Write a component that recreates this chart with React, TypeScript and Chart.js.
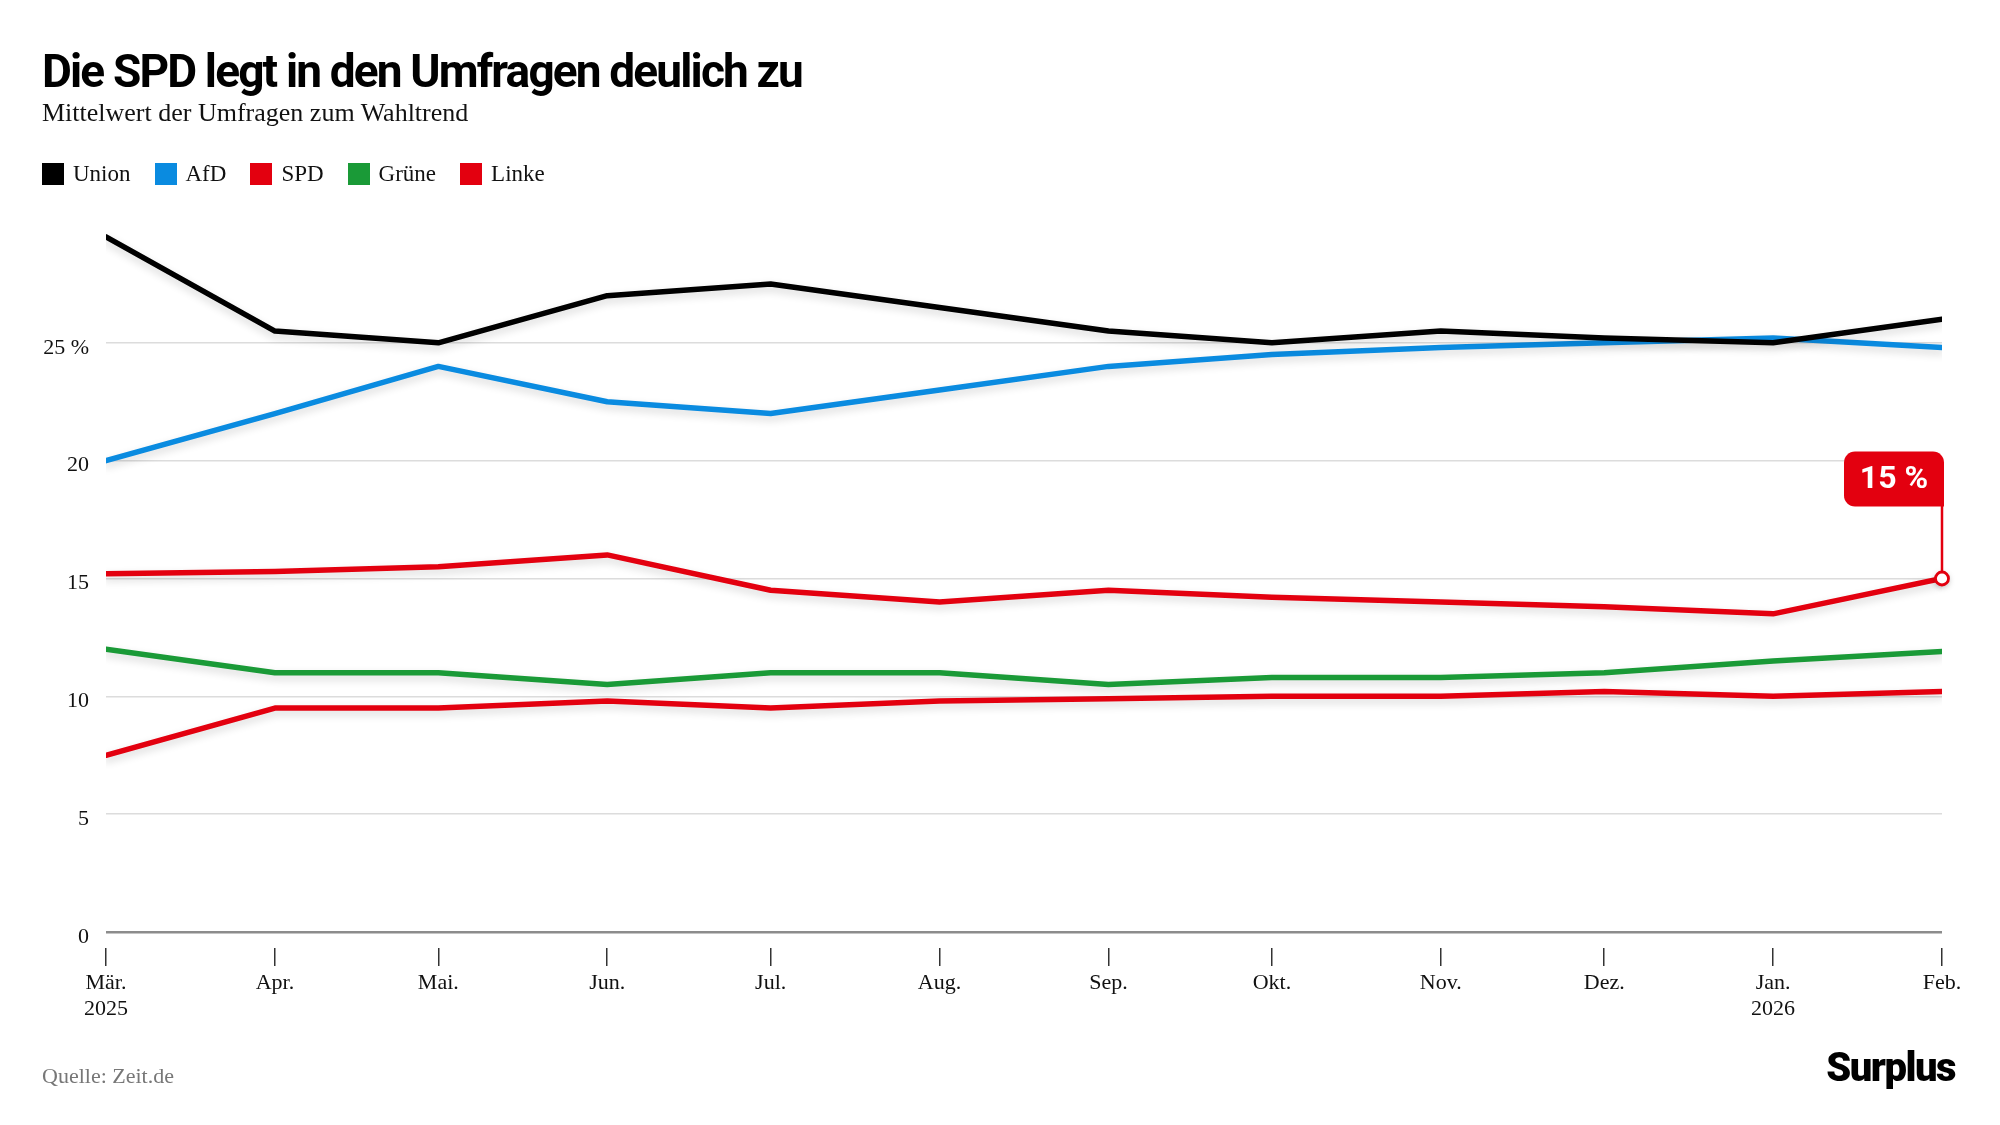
import React, { useEffect, useRef } from "react";
import { Chart, registerables } from "chart.js";

Chart.register(...registerables);

// ---- Data ----
const monthDates = [
  "2025-03-01", "2025-04-01", "2025-05-01", "2025-06-01", "2025-07-01", "2025-08-01",
  "2025-09-01", "2025-10-01", "2025-11-01", "2025-12-01", "2026-01-01", "2026-02-01",
];
const monthLabels = ["Mär.", "Apr.", "Mai.", "Jun.", "Jul.", "Aug.", "Sep.", "Okt.", "Nov.", "Dez.", "Jan.", "Feb."];
const yearLabels = ["2025", "", "", "", "", "", "", "", "", "", "2026", ""];

const union = [29.5, 25.5, 25.0, 27.0, 27.5, 26.5, 25.5, 25.0, 25.5, 25.2, 25.0, 26.0];
const afd = [20.0, 22.0, 24.0, 22.5, 22.0, 23.0, 24.0, 24.5, 24.8, 25.0, 25.2, 24.8];
const spd = [15.2, 15.3, 15.5, 16.0, 14.5, 14.0, 14.5, 14.2, 14.0, 13.8, 13.5, 15.0];
const gruene = [12.0, 11.0, 11.0, 10.5, 11.0, 11.0, 10.5, 10.8, 10.8, 11.0, 11.5, 11.9];
const linke = [7.5, 9.5, 9.5, 9.8, 9.5, 9.8, 9.9, 10.0, 10.0, 10.2, 10.0, 10.2];

const seriesNames = ["Union", "AfD", "SPD", "Grüne", "Linke"];
const seriesColors = ["#000000", "#0a8be0", "#e3000f", "#1a9a37", "#e3000f"];
const seriesValues = [union, afd, spd, gruene, linke];

const yTicks = [0, 5, 10, 15, 20, 25];

const titleText = "Die SPD legt in den Umfragen deulich zu";
const subtitleText = "Mittelwert der Umfragen zum Wahltrend";
const sourceText = "Quelle: Zeit.de";
const logoText = "Surplus";

const SERIF = "'Liberation Serif', 'Times New Roman', serif";

const dayIndex = monthDates.map((d) => (Date.parse(d) - Date.parse(monthDates[0])) / 86400000);

const shadowPlugin = {
  id: "lineShadow",
  beforeDatasetsDraw(chart: any) {
    const ctx = chart.ctx;
    ctx.save();
    ctx.shadowColor = "rgba(0,0,0,0.16)";
    ctx.shadowBlur = 9;
    ctx.shadowOffsetY = 4;
  },
  afterDatasetsDraw(chart: any) {
    chart.ctx.restore();
  },
};

const calloutPlugin = {
  id: "spdCallout",
  afterDraw(chart: any) {
    const meta = chart.getDatasetMeta(2);
    const pt = meta.data[meta.data.length - 1];
    if (!pt) return;
    const x = pt.x;
    const y = pt.y;
    const ctx = chart.ctx;
    const boxW = 100;
    const boxH = 55;
    const right = x + 2;
    const left = right - boxW;
    const bottom = y - 72;
    const top = bottom - boxH;
    ctx.save();
    ctx.fillStyle = "#e3000f";
    ctx.beginPath();
    ctx.roundRect(left, top, boxW, boxH, [11, 11, 0, 11]);
    ctx.fill();
    ctx.strokeStyle = "#e3000f";
    ctx.lineWidth = 2.5;
    ctx.beginPath();
    ctx.moveTo(x, bottom - 1);
    ctx.lineTo(x, y);
    ctx.stroke();
    ctx.fillStyle = "#ffffff";
    ctx.font = "700 32px Roboto";
    ctx.textAlign = "center";
    ctx.textBaseline = "middle";
    ctx.fillText(`${spd[spd.length - 1]} %`, left + boxW / 2, top + boxH / 2 + 1);
    ctx.shadowColor = "rgba(0,0,0,0.35)";
    ctx.shadowBlur = 6;
    ctx.shadowOffsetY = 2;
    ctx.beginPath();
    ctx.arc(x, y, 6.5, 0, Math.PI * 2);
    ctx.fillStyle = "#ffffff";
    ctx.fill();
    ctx.shadowColor = "transparent";
    ctx.lineWidth = 2.8;
    ctx.strokeStyle = "#e3000f";
    ctx.stroke();
    ctx.restore();
  },
};

export default function App() {
  const canvasRef = useRef<HTMLCanvasElement | null>(null);

  useEffect(() => {
    if (!canvasRef.current) return;
    const chart = new Chart(canvasRef.current, {
      type: "line",
      data: {
        datasets: seriesNames.map((name, si) => ({
          label: name,
          data: seriesValues[si].map((v, i) => ({ x: dayIndex[i], y: v })),
          borderColor: seriesColors[si],
          backgroundColor: seriesColors[si],
          borderWidth: 5.5,
          pointRadius: 0,
          pointHoverRadius: 0,
          borderCapStyle: "round",
          borderJoinStyle: "round",
          tension: 0,
        })),
      },
      options: {
        animation: false,
        responsive: true,
        maintainAspectRatio: false,
        devicePixelRatio: 1,
        layout: { padding: { top: 225, left: 42, right: 58, bottom: 77.5 } },
        plugins: {
          legend: { display: false },
          title: { display: false },
          tooltip: { enabled: false },
        },
        scales: {
          x: {
            type: "linear",
            min: dayIndex[0],
            max: dayIndex[dayIndex.length - 1],
            afterBuildTicks(scale: any) {
              scale.ticks = dayIndex.map((v) => ({ value: v }));
            },
            afterFit(scale: any) {
              scale.height = 100;
              scale.paddingLeft = 0;
              scale.paddingRight = 0;
            },
            border: { display: false },
            grid: {
              drawOnChartArea: false,
              drawTicks: true,
              tickLength: 18.5,
              color: "#333333",
              lineWidth: 1.5,
            },
            ticks: {
              autoSkip: false,
              maxRotation: 0,
              minRotation: 0,
              padding: 4,
              color: "#111111",
              font: { family: SERIF, size: 22, lineHeight: 1.2 },
              callback(value: any) {
                const i = dayIndex.indexOf(Number(value));
                if (i < 0) return "";
                return yearLabels[i] ? [monthLabels[i], yearLabels[i]] : monthLabels[i];
              },
            },
          },
          y: {
            min: -0.658,
            max: 30,
            afterBuildTicks(scale: any) {
              scale.ticks = yTicks.map((v) => ({ value: v }));
            },
            afterFit(scale: any) {
              scale.width = 64;
              scale.paddingTop = 0;
              scale.paddingBottom = 0;
            },
            border: { display: false },
            grid: {
              drawTicks: false,
              color: (c: any) => (c.tick && c.tick.value === 0 ? "#8c8c8c" : "#dcdcdc"),
              lineWidth: (c: any) => (c.tick && c.tick.value === 0 ? 2.5 : 1.5),
            },
            ticks: {
              padding: 17,
              labelOffset: 5,
              color: "#111111",
              font: { family: SERIF, size: 22 },
              callback(value: any) {
                return Number(value) === 25 ? "25 %" : String(value);
              },
            },
          },
        },
      },
      plugins: [shadowPlugin, calloutPlugin],
    } as any);
    return () => chart.destroy();
  }, []);

  return (
    <div
      style={{
        position: "absolute",
        left: 0,
        top: 0,
        width: 2000,
        height: 1125,
        background: "#ffffff",
        overflow: "hidden",
      }}
    >
      <div style={{ position: "absolute", left: 0, top: 0, width: 2000, height: 1125 }}>
        <canvas ref={canvasRef} />
      </div>
      <div
        style={{
          position: "absolute",
          left: 42,
          top: 48,
          font: "700 46px Roboto",
          lineHeight: "46px",
          letterSpacing: "-1.85px",
          color: "#000",
          whiteSpace: "nowrap",
        }}
      >
        {titleText}
      </div>
      <div
        style={{
          position: "absolute",
          left: 42,
          top: 100,
          fontFamily: SERIF,
          fontSize: 26,
          lineHeight: "26px",
          color: "#111",
          whiteSpace: "nowrap",
        }}
      >
        {subtitleText}
      </div>
      <div
        style={{
          position: "absolute",
          left: 42,
          top: 163,
          display: "flex",
          alignItems: "center",
          fontFamily: SERIF,
          fontSize: 23,
          lineHeight: "22px",
          color: "#111",
        }}
      >
        {seriesNames.map((n, i) => (
          <div key={n} style={{ display: "flex", alignItems: "center", marginRight: 24 }}>
            <span style={{ width: 22, height: 22, background: seriesColors[i], marginRight: 9, display: "inline-block" }} />
            <span>{n}</span>
          </div>
        ))}
      </div>
      <div
        style={{
          position: "absolute",
          left: 42,
          top: 1065,
          fontFamily: SERIF,
          fontSize: 22,
          lineHeight: "22px",
          color: "#777",
          whiteSpace: "nowrap",
        }}
      >
        {sourceText}
      </div>
      <div
        style={{
          position: "absolute",
          right: 45,
          top: 1048,
          font: "900 40px Roboto",
          lineHeight: "40px",
          letterSpacing: "-1.5px",
          color: "#000",
          whiteSpace: "nowrap",
        }}
      >
        {logoText}
      </div>
    </div>
  );
}
